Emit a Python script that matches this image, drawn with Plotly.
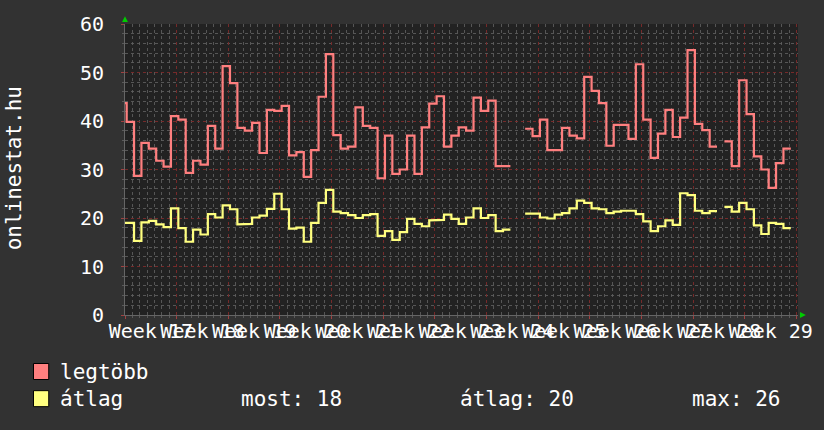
import plotly.graph_objects as go

# ---- data (daily values, 13 weeks) ----
week_labels = ["Week 17", "Week 18", "Week 19", "Week 20", "Week 21", "Week 22", "Week 23",
               "Week 24", "Week 25", "Week 26", "Week 27", "Week 28", "Week 29"]

legtobb = [43.7, 39.8, 28.7, 35.5, 34.3, 31.8, 30.6, 41.0, 40.3, 29.3, 31.8, 31.0, 39.0, 34.3,
           51.3, 47.8, 38.6, 38.0, 39.6, 33.4, 42.3, 42.1, 43.1, 32.9, 33.6, 28.5, 34.0, 45.0,
           53.8, 37.1, 34.3, 34.7, 42.8, 39.0, 38.6, 28.2, 37.0, 29.1, 30.0, 37.0, 29.1, 38.7,
           43.6, 45.1, 34.7, 37.0, 38.7, 38.0, 44.8, 42.1, 44.2, 30.7, 30.7, None, None, 38.4,
           36.9, 40.3, 34.0, 34.0, 38.6, 37.0, 36.4, 49.1, 46.2, 43.7, 34.9, 39.2, 39.2, 36.3,
           51.7, 40.3, 32.4, 37.4, 42.3, 36.7, 40.7, 54.6, 39.4, 38.1, 34.7, None, 35.8, 30.7,
           48.4, 41.4, 32.7, 30.0, 26.2, 31.3, 34.3]

atlag = [19.0, 19.0, 15.3, 19.1, 19.4, 18.7, 18.1, 22.0, 17.9, 15.1, 17.6, 16.6, 20.8, 20.1,
         22.6, 21.8, 18.7, 18.8, 20.1, 20.5, 21.9, 25.0, 21.8, 17.8, 18.0, 15.1, 19.0, 23.1,
         25.8, 21.3, 21.0, 20.6, 20.0, 20.6, 20.8, 16.3, 17.3, 15.5, 17.1, 19.8, 18.8, 18.3,
         19.5, 19.6, 20.7, 19.8, 18.8, 20.1, 22.0, 20.0, 20.6, 17.3, 17.6, None, None, 20.9,
         20.9, 20.1, 19.9, 20.7, 21.0, 22.0, 23.6, 23.1, 22.0, 21.8, 21.0, 21.3, 21.5, 21.5,
         20.8, 19.3, 17.3, 18.3, 19.5, 18.6, 25.1, 24.7, 21.5, 21.0, 21.4, None, 22.3, 21.3,
         23.1, 21.8, 18.5, 16.7, 19.0, 18.8, 17.9]

DAY_OFFSET = 0.227   # sample boundaries relative to midnight grid
X_END = 91.2         # axis span in days
W, H = 824, 430
L, R, T, B = 125, 15, 15, 115
PW, PH = W - L - R, H - T - B

FONT = "DejaVu Sans Mono"
RED = "#FF7F7F"
YEL = "#FFFF7F"


def step_xy(vals):
    xs, ys = [], []
    for i, v in enumerate(vals):
        x0 = 0 if i == 0 else i - 1 + DAY_OFFSET
        x1 = i + DAY_OFFSET
        if v is None:
            if ys and ys[-1] is not None:
                xs.append(None)
                ys.append(None)
            continue
        xs += [x0, x1]
        ys += [v, v]
    return xs, ys


def px(x):
    return (x - L) / PW


def py(y):
    return (T + PH - y) / PH


fig = go.Figure()
for vals, col, name in [(legtobb, RED, "legtöbb"), (atlag, YEL, "átlag")]:
    xs, ys = step_xy(vals)
    fig.add_trace(go.Scatter(x=xs, y=ys, mode="lines", name=name,
                             line=dict(color=col, width=2.2), showlegend=False,
                             hoverinfo="skip"))

# invisible trace carrying the centred week labels
fig.add_trace(go.Scatter(x=[0, X_END], y=[None, None], xaxis="x2", showlegend=False,
                         hoverinfo="skip"))

week_bounds = [7 * k for k in range(len(week_labels) + 1)]
week_mids = [7 * k + 3.5 for k in range(len(week_labels))]

MAJ = "rgba(120,40,40,0.95)"
MIN = "rgba(95,95,95,0.85)"

fig.update_layout(
    width=W, height=H,
    margin=dict(l=L, r=R, t=T, b=B),
    paper_bgcolor="#323232",
    plot_bgcolor="#222222",
    font=dict(family=FONT, color="white", size=20),
    xaxis=dict(range=[0, X_END], tickvals=week_bounds, showticklabels=False,
               showgrid=True, gridcolor=MAJ, griddash="dot", gridwidth=1,
               ticks="outside", ticklen=3, tickcolor="#a04040",
               minor=dict(dtick=1, tick0=0, showgrid=True, gridcolor=MIN, griddash="dot",
                          ticks="outside", ticklen=2, tickcolor="#5a5a5a"),
               showline=True, linecolor="#666", linewidth=1, zeroline=False, fixedrange=True),
    xaxis2=dict(range=[0, X_END], overlaying="x", side="bottom", anchor="y",
                tickvals=week_mids, ticktext=week_labels, tickangle=0,
                showgrid=False, ticks="", ticklabelstandoff=2, zeroline=False,
                tickfont=dict(size=20, family=FONT, color="white")),
    yaxis=dict(range=[0, 60], tickvals=[0, 10, 20, 30, 40, 50, 60],
               showgrid=True, gridcolor=MAJ, griddash="dot", gridwidth=1,
               ticks="outside", ticklen=3, tickcolor="#a04040",
               ticklabelstandoff=13,
               minor=dict(dtick=2, showgrid=True, gridcolor=MIN, griddash="dot",
                          ticks="outside", ticklen=2, tickcolor="#5a5a5a"),
               showline=True, linecolor="#666", linewidth=1, zeroline=False,
               tickfont=dict(size=20, family=FONT, color="white")),
)

# axis arrows (green)
g = "#00CC00"
fig.add_shape(type="path", xref="paper", yref="paper",
              path=f"M {px(122)} {py(13)} L {px(128)} {py(13)} L {px(125)} {py(7)} Z",
              fillcolor=g, line=dict(color=g, width=0))
fig.add_shape(type="path", xref="paper", yref="paper",
              path=f"M {px(811)} {py(312)} L {px(811)} {py(318)} L {px(817)} {py(315)} Z",
              fillcolor=g, line=dict(color=g, width=0))

# y-axis title
fig.add_annotation(text="onlinestat.hu", textangle=-90, xref="paper", yref="paper",
                   x=px(12), y=py(164), xanchor="center", yanchor="middle",
                   showarrow=False, font=dict(size=21, family=FONT, color="white"))

# legend squares and text
for (col, ytop, label) in [(RED, 365, "legtöbb"), (YEL, 393, "átlag")]:
    fig.add_shape(type="rect", xref="paper", yref="paper",
                  x0=px(32), x1=px(47.5), y0=py(ytop), y1=py(ytop + 16.5),
                  fillcolor=col, line=dict(color="black", width=1))
    fig.add_annotation(text=label, xref="paper", yref="paper", x=px(57), y=py(ytop + 8.5),
                       xanchor="left", yanchor="middle", showarrow=False,
                       font=dict(size=21, family=FONT, color="white"))

valid = [v for v in atlag if v is not None]
stats = [("most: %.0f" % valid[-1], 241),
         ("átlag: %.0f" % (sum(valid) / len(valid)), 463),
         ("max: %.0f" % max(valid), 699)]
for txt, x in stats:
    fig.add_annotation(text=txt, xref="paper", yref="paper", x=px(x), y=py(401.5),
                       xanchor="left", yanchor="middle", showarrow=False,
                       font=dict(size=21, family=FONT, color="white"))

fig.write_html("out.html")
